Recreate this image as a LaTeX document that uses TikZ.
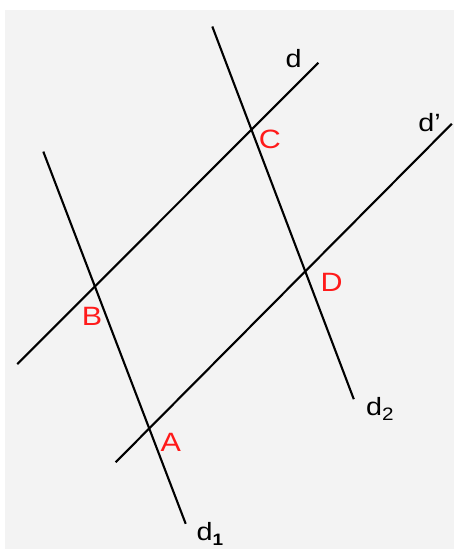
\documentclass[tikz,border=0pt]{standalone}
\usepackage{graphicx}
\usepackage{fontspec}
\setmainfont{Liberation Sans}
\definecolor{bgc}{HTML}{F3F3F3}
\definecolor{ptred}{HTML}{FF1A1A}
\newcommand{\stretchtxt}[1]{\scalebox{1.15}[1]{#1}}
\begin{document}
\begin{tikzpicture}[x=1pt,y=-1pt,
  lineseg/.style={line width=2.1pt, black},
  ptlabel/.style={text=ptred, font=\fontsize{26.5}{26.5}\selectfont, inner sep=0pt},
  linelabel/.style={text=black, font=\fontsize{25}{25}\selectfont, inner sep=0pt}]
\useasboundingbox (0,0) rectangle (454,549);
\fill[bgc] (5,9.8) rectangle (454,549);
% line end points
\coordinate (d1a) at (43.3,151.6);
\coordinate (d1b) at (185.7,523.8);
\coordinate (d2a) at (212.3,26.5);
\coordinate (d2b) at (353.8,399.2);
\coordinate (da) at (17.3,364.1);
\coordinate (db) at (318.3,62.8);
\coordinate (dpa) at (115.7,462.2);
\coordinate (dpb) at (451.8,123.8);
\draw[lineseg] (d1a) -- (d1b);
\draw[lineseg] (d2a) -- (d2b);
\draw[lineseg] (da) -- (db);
\draw[lineseg] (dpa) -- (dpb);
% point labels
\node[ptlabel] (C) at (270,139.5) {\stretchtxt{C}};
\node[ptlabel] (B) at (92,316.5) {\stretchtxt{B}};
\node[ptlabel] (A) at (170.8,442.5) {\stretchtxt{A}};
\node[ptlabel] (D) at (331.7,282) {\stretchtxt{D}};
% line labels
\node[linelabel] (ld) at (293.7,58.3) {\stretchtxt{d}};
\node[linelabel, anchor=base west] (ldp) at (418.2,131.7) {\stretchtxt{d’}};
\node[linelabel, anchor=base west] (ld2) at (366,415.7) {\stretchtxt{d\raisebox{-5pt}{\fontsize{18}{18}\selectfont 2}}};
\node[linelabel, anchor=base west] (ld1) at (196.5,540) {\stretchtxt{d\raisebox{-5pt}{\fontsize{16.5}{16.5}\selectfont\bfseries 1}}};
\end{tikzpicture}
\end{document}
